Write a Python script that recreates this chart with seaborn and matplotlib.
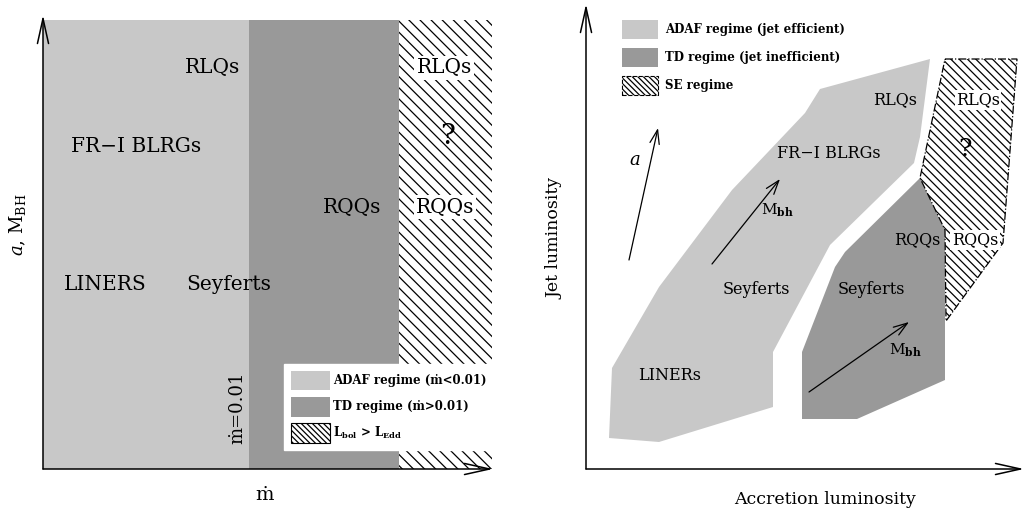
import matplotlib
matplotlib.use("Agg")
import matplotlib.pyplot as plt
from matplotlib.patches import Polygon, Rectangle, Patch
import seaborn as sns

sns.set_theme(style="white")
plt.rcParams["font.family"] = ["DejaVu Serif", "DejaVu Sans"]
plt.rcParams["mathtext.fontset"] = "dejavuserif"
plt.rcParams["hatch.linewidth"] = 0.9
plt.rcParams["text.color"] = "black"

# ---------------- data (schematic units) ----------------
LIGHT = "#c8c8c8"
DARK = "#999999"
HATCH_MAIN_L = "\\" * 3
HATCH_MAIN_R = "\\" * 4
HATCH_KEY = "\\" * 6

# left panel: regime boundaries along accretion rate axis
left_bounds = [0, 206, 356, 449]
left_top = 449
left_kinds = ["ADAF", "TD", "SE"]
left_labels = ["RLQs", "RLQs", "?", "FR\u2212I BLRGs", "RQQs", "RQQs", "LINERS", "Seyferts"]
left_label_x = [169, 401, 405, 93, 309, 402, 62, 186]
left_label_y = [401, 401, 332, 322, 262, 262, 184, 184]
left_label_white = [False, True, False, False, False, True, False, False]
left_legend = ["ADAF regime (\u1e41<0.01)", "TD regime (\u1e41>0.01)",
               r"L$_{\mathbf{bol}}$ > L$_{\mathbf{Edd}}$"]

# right panel polygons (accretion luminosity, jet luminosity)
adaf_x = [23, 73, 187, 187, 244, 328, 334, 344, 234, 219, 146, 73, 26]
adaf_y = [31, 27, 62, 117, 224, 306, 332, 410, 380, 356, 279, 182, 101]
td_x = [216, 271, 359, 359, 334, 259, 249, 216]
td_y = [50, 50, 89, 239, 291, 217, 202, 117]
se_x = [359, 431, 417, 360, 359, 334]
se_y = [410, 410, 226, 148, 239, 291]

right_labels = ["RLQs", "RLQs", "?", "FR\u2212I BLRGs", "RQQs", "RQQs",
                "Seyferts", "Seyferts", "LINERs"]
right_label_x = [309, 392, 379, 243, 331, 389, 170, 285, 84]
right_label_y = [369, 369, 319, 315, 229, 229, 179, 179, 93]
right_label_white = [False, True, False, False, False, True, False, False, False]
right_legend = ["ADAF regime (jet efficient)", "TD regime (jet inefficient)", "SE regime"]

# trend arrows: start, end, label, label position
arrow_x0 = [43, 126, 223]
arrow_y0 = [209, 205, 77]
arrow_x1 = [72, 194, 323]
arrow_y1 = [341, 290, 147]
arrow_text = ["$a$", r"M$_{\mathbf{bh}}$", r"M$_{\mathbf{bh}}$"]
arrow_tx = [49, 191, 319]
arrow_ty = [309, 259, 119]

# ---------------- figure ----------------
fig = plt.figure(figsize=(10.24, 5.12), dpi=100)
axL = fig.add_axes([43 / 1024, 43 / 512, 450 / 1024, 454 / 512])
axR = fig.add_axes([586 / 1024, 43 / 512, 438 / 1024, 465 / 512])
axL.set_xlim(0, 450); axL.set_ylim(0, 454)
axR.set_xlim(0, 438); axR.set_ylim(0, 465)
for ax in (axL, axR):
    ax.set_axis_off()

axis_arrow = dict(arrowstyle="->,head_length=0.9,head_width=0.2", mutation_scale=20,
                  lw=1.1, color="black", shrinkA=0, shrinkB=0)

# ---- left panel ----
fills = {"ADAF": dict(facecolor=LIGHT, edgecolor="none"),
         "TD": dict(facecolor=DARK, edgecolor="none"),
         "SE": dict(facecolor="white", edgecolor="black", hatch=HATCH_MAIN_L, lw=0)}
for i, kind in enumerate(left_kinds):
    axL.add_patch(Rectangle((left_bounds[i], 0), left_bounds[i + 1] - left_bounds[i],
                            left_top, **fills[kind]))
axL.annotate("", xy=(0, 454), xytext=(0, 0), arrowprops=axis_arrow, annotation_clip=False)
axL.annotate("", xy=(450, 0), xytext=(0, 0), arrowprops=axis_arrow, annotation_clip=False)

for t, x, y, w in zip(left_labels, left_label_x, left_label_y, left_label_white):
    kw = dict(ha="center", va="center", fontsize=20 if t == "?" else 14.5)
    if w:
        kw["bbox"] = dict(facecolor="white", edgecolor="none", pad=1.5)
    axL.text(x, y, t, **kw)
axL.text(194, 61, "\u1e41=0.01", rotation=90, ha="center", va="center", fontsize=13)
axL.text(222, -26, "\u1e41", ha="center", va="center", fontsize=14, clip_on=False)
axL.text(-25, 244, r"$a$, M$_{\rm BH}$", rotation=90, ha="center", va="center",
         fontsize=13, clip_on=False)

hL = [Patch(facecolor=LIGHT, edgecolor="none"),
      Patch(facecolor=DARK, edgecolor="none"),
      Patch(facecolor="white", edgecolor="black", hatch=HATCH_KEY, lw=0.8)]
axL.legend(hL, left_legend, loc="lower right", bbox_to_anchor=(451, 19),
           bbox_transform=axL.transData, borderaxespad=0, borderpad=0.6,
           handlelength=3.3, handleheight=2.2, labelspacing=0.55, handletextpad=0.3,
           frameon=True, fancybox=False, framealpha=1, facecolor="white",
           edgecolor="white", prop=dict(weight="bold", size=8.5))

# ---- right panel ----
axR.add_patch(Polygon(list(zip(adaf_x, adaf_y)), closed=True, facecolor=LIGHT, edgecolor="none"))
axR.add_patch(Polygon(list(zip(td_x, td_y)), closed=True, facecolor=DARK, edgecolor="none"))
axR.add_patch(Polygon(list(zip(se_x, se_y)), closed=True, facecolor="white", edgecolor="black",
                      hatch=HATCH_MAIN_R, lw=0.9, linestyle="-."))
axR.annotate("", xy=(0, 465), xytext=(0, 0), arrowprops=axis_arrow, annotation_clip=False)
axR.annotate("", xy=(438, 0), xytext=(0, 0), arrowprops=axis_arrow, annotation_clip=False)

trend_arrow = dict(arrowstyle="->,head_length=0.5,head_width=0.17", mutation_scale=20,
                   lw=0.9, color="black", shrinkA=0, shrinkB=0)
for x0, y0, x1, y1, t, tx, ty in zip(arrow_x0, arrow_y0, arrow_x1, arrow_y1,
                                     arrow_text, arrow_tx, arrow_ty):
    axR.annotate("", xy=(x1, y1), xytext=(x0, y0), arrowprops=trend_arrow)
    axR.text(tx, ty, t, ha="center", va="center", fontsize=13 if t == "$a$" else 11)

for t, x, y, w in zip(right_labels, right_label_x, right_label_y, right_label_white):
    kw = dict(ha="center", va="center", fontsize=18 if t == "?" else 11.5)
    if w:
        kw["bbox"] = dict(facecolor="white", edgecolor="none", pad=1.0)
    axR.text(x, y, t, **kw)

axR.text(-31, 231, "Jet luminosity", rotation=90, ha="center", va="center",
         fontsize=12.5, clip_on=False)
axR.text(239, -30, "Accretion luminosity", ha="center", va="center",
         fontsize=12.5, clip_on=False)

hR = [Patch(facecolor=LIGHT, edgecolor="none"),
      Patch(facecolor=DARK, edgecolor="none"),
      Patch(facecolor="white", edgecolor="black", hatch=HATCH_KEY, lw=0.8, linestyle="--")]
axR.legend(hR, right_legend, loc="upper left", bbox_to_anchor=(36, 449),
           bbox_transform=axR.transData, borderaxespad=0, borderpad=0,
           handlelength=3.05, handleheight=2.1, labelspacing=0.75, handletextpad=0.6,
           frameon=False, prop=dict(weight="bold", size=8.5))

fig.savefig("out.png", dpi=100)
